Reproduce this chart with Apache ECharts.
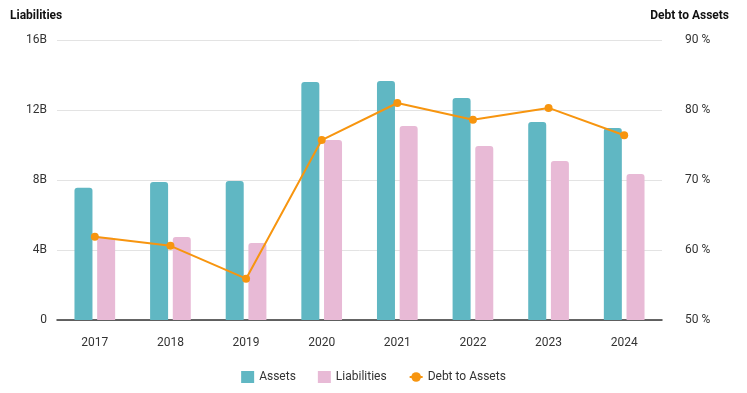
<!DOCTYPE html>
<html>
<head>
<meta charset="utf-8">
<script src="https://cdn.jsdelivr.net/npm/echarts@6/dist/echarts.min.js"></script>
<style>html,body{margin:0;padding:0;background:#fff}#c{width:747px;height:393px}</style>
</head>
<body>
<div id="c"></div>
<script>
const years = ['2017','2018','2019','2020','2021','2022','2023','2024'];
const assets = [7.56, 7.89, 7.95, 13.6, 13.66, 12.69, 11.31, 10.97];
const liabilities = [4.7, 4.74, 4.4, 10.29, 11.09, 9.94, 9.09, 8.34];
const debtToAssets = [61.9, 60.6, 55.9, 75.7, 81.0, 78.6, 80.3, 76.4];
const leftTicks = ['0','4B','8B','12B','16B'];

const chart = echarts.init(document.getElementById('c'));
const font = 'Roboto, "Liberation Sans", sans-serif';
chart.setOption({
  animation: false,
  textStyle: {fontFamily: font},
  title: [
    {text: 'Liabilities', left: 10, top: 10, padding: 0, textStyle: {fontSize: 12, fontWeight: 'bold', color: '#111', fontFamily: font}},
    {text: 'Debt to Assets', right: 18, top: 10, padding: 0, textStyle: {fontSize: 12, fontWeight: 'bold', color: '#111', fontFamily: font}}
  ],
  grid: {left: 57, right: 85, top: 40, bottom: 73},
  legend: {
    bottom: 5, left: 'center', itemWidth: 13, itemHeight: 12, itemGap: 22,
    textStyle: {fontSize: 12, color: '#333', fontFamily: font},
    data: [{name: 'Assets', icon: 'rect'}, {name: 'Liabilities', icon: 'rect'}, {name: 'Debt to Assets'}]
  },
  xAxis: {
    type: 'category', data: years,
    axisLine: {lineStyle: {color: '#333', width: 1.5}},
    axisTick: {show: false},
    axisLabel: {color: '#333', fontSize: 12, margin: 17}
  },
  yAxis: [
    {
      type: 'value', min: 0, max: 16, interval: 4,
      axisLabel: {color: '#333', fontSize: 12, margin: 10, formatter: (v) => leftTicks[v / 4]},
      splitLine: {lineStyle: {color: '#e3e3e3'}},
      axisLine: {show: false}, axisTick: {show: false}
    },
    {
      type: 'value', min: 50, max: 90, interval: 10,
      axisLabel: {color: '#333', fontSize: 12, margin: 23, formatter: (v) => v + ' %'},
      splitLine: {show: false},
      axisLine: {show: false}, axisTick: {show: false}
    }
  ],
  series: [
    {name: 'Assets', type: 'bar', data: assets, barWidth: 18, barGap: '26%',
      itemStyle: {color: '#60b7c3', borderRadius: [3,3,0,0]}},
    {name: 'Liabilities', type: 'bar', data: liabilities, barWidth: 18,
      itemStyle: {color: '#e8bad6', borderRadius: [3,3,0,0]}},
    {name: 'Debt to Assets', type: 'line', yAxisIndex: 1, data: debtToAssets,
      symbol: 'circle', symbolSize: 8,
      lineStyle: {color: '#f7950f', width: 2},
      itemStyle: {color: '#f7950f'}}
  ]
});
</script>
</body>
</html>
